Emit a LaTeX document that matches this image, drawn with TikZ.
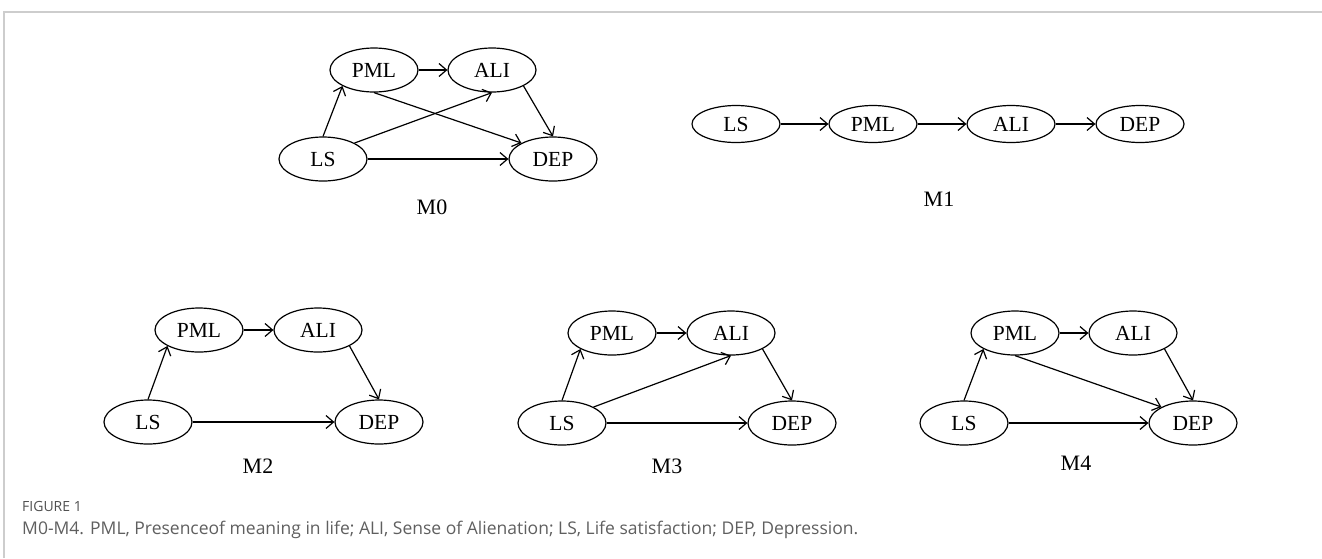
\documentclass[tikz,border=0pt]{standalone}
\usepackage{fontspec}
\setmainfont{Liberation Serif}
\newfontfamily\capfont{Open Sans}
\usetikzlibrary{shapes.geometric,arrows.meta}
\definecolor{framegray}{RGB}{205,205,205}
\definecolor{capgray}{RGB}{95,95,95}
\definecolor{headgray}{RGB}{80,80,80}
\begin{document}
\begin{tikzpicture}[x=1pt,y=-1pt,
  var/.style={ellipse,draw,line width=1.2pt,minimum width=88pt,minimum height=44pt,inner sep=0pt,font=\fontsize{21.5}{25}\selectfont},
  varflat/.style={var,minimum height=37pt},
  path/.style={line width=1.2pt,-{Straight Barb[length=7.5pt,width=13pt,line width=1.2pt]}},
  model/.style={font=\fontsize{22}{26}\selectfont}]
\useasboundingbox (0,0) rectangle (1322,558);
% frame
\draw[framegray,line width=1.4pt] (4,558) -- (4,12) -- (1322,12);

% ---- M0 ----
\node[var] (p0) at (374,70) {PML};
\node[var] (a0) at (492,70) {ALI};
\node[var] (l0) at (323,159) {LS};
\node[var] (d0) at (553,159) {DEP};
\draw[path] (p0.east) -- (a0.west);
\draw[path] (l0.north) -- (p0.south west);
\draw[path] (l0.north east) -- (a0.south);
\draw[path] (p0.south) -- (d0.north west);
\draw[path] (a0.south east) -- (d0.north);
\draw[path] (l0.east) -- (d0.west);
\node[model] (m0) at (432,207) {M0};

% ---- M1 ----
\node[varflat] (l1) at (736,124) {LS};
\node[varflat] (p1) at (873,124) {PML};
\node[varflat] (a1) at (1011,124) {ALI};
\node[varflat] (d1) at (1140,124) {DEP};
\draw[path] (l1) -- (p1);
\draw[path] (p1) -- (a1);
\draw[path] (a1) -- (d1);
\node[model] (m1) at (939,199) {M1};

% ---- M2 ----
\node[var] (p2) at (199,330) {PML};
\node[var] (a2) at (318,330) {ALI};
\node[var] (l2) at (148,422) {LS};
\node[var] (d2) at (379,422) {DEP};
\draw[path] (p2.east) -- (a2.west);
\draw[path] (l2.north) -- (p2.south west);
\draw[path] (a2.south east) -- (d2.north);
\draw[path] (l2.east) -- (d2.west);
\node[model] (m2) at (258,466) {M2};

% ---- M3 ----
\node[var] (p3) at (612,333) {PML};
\node[var] (a3) at (731,333) {ALI};
\node[var] (l3) at (562,423) {LS};
\node[var] (d3) at (792,423) {DEP};
\draw[path] (p3.east) -- (a3.west);
\draw[path] (l3.north) -- (p3.south west);
\draw[path] (l3.north east) -- (a3.south);
\draw[path] (a3.south east) -- (d3.north);
\draw[path] (l3.east) -- (d3.west);
\node[model] (m3) at (667,466) {M3};

% ---- M4 ----
\node[var] (p4) at (1015,333) {PML};
\node[var] (a4) at (1133,333) {ALI};
\node[var] (l4) at (964,423) {LS};
\node[var] (d4) at (1193,423) {DEP};
\draw[path] (p4.east) -- (a4.west);
\draw[path] (l4.north) -- (p4.south west);
\draw[path] (p4.south) -- (d4.north west);
\draw[path] (a4.south east) -- (d4.north);
\draw[path] (l4.east) -- (d4.west);
\node[model] (m4) at (1076,463) {M4};

% ---- caption ----
\node[anchor=west,inner sep=0pt,text=headgray,font=\capfont\fontsize{14}{16}\selectfont] (figlabel) at (22,506) {FIGURE 1};
\node[anchor=west,inner sep=0pt,text=capgray,font=\capfont\fontsize{17.5}{21}\selectfont] (captext) at (22,530)
  {M0-M4. PML, Presenceof meaning in life; ALI, Sense of Alienation; LS, Life satisfaction; DEP, Depression.};
\end{tikzpicture}
\end{document}
